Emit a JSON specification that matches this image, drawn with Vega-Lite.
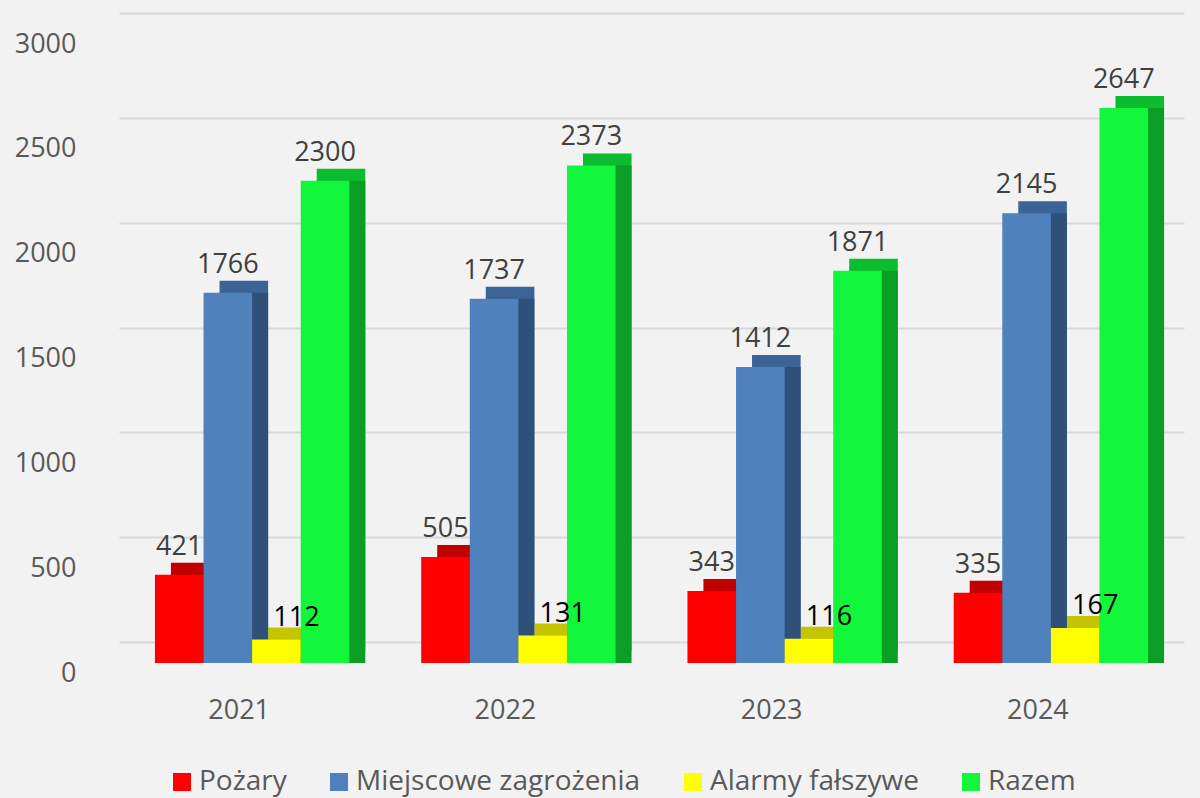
{
  "$schema": "https://vega.github.io/schema/vega-lite/v6.json",
  "autosize": "none",
  "width": 1065,
  "height": 629,
  "padding": {"left": 119, "top": 34, "right": 16, "bottom": 135},
  "background": "#f2f2f2",
  "config": {
    "view": {"stroke": null},
    "font": "Open Sans"
  },
  "data": {
    "values": [
      {"year": "2021", "series": "Pożary", "value": 421},
      {"year": "2021", "series": "Miejscowe zagrożenia", "value": 1766},
      {"year": "2021", "series": "Alarmy fałszywe", "value": 112},
      {"year": "2021", "series": "Razem", "value": 2300},
      {"year": "2022", "series": "Pożary", "value": 505},
      {"year": "2022", "series": "Miejscowe zagrożenia", "value": 1737},
      {"year": "2022", "series": "Alarmy fałszywe", "value": 131},
      {"year": "2022", "series": "Razem", "value": 2373},
      {"year": "2023", "series": "Pożary", "value": 343},
      {"year": "2023", "series": "Miejscowe zagrożenia", "value": 1412},
      {"year": "2023", "series": "Alarmy fałszywe", "value": 116},
      {"year": "2023", "series": "Razem", "value": 1871},
      {"year": "2024", "series": "Pożary", "value": 335},
      {"year": "2024", "series": "Miejscowe zagrożenia", "value": 2145},
      {"year": "2024", "series": "Alarmy fałszywe", "value": 167},
      {"year": "2024", "series": "Razem", "value": 2647}
    ]
  },
  "encoding": {
    "x": {
      "field": "year", "type": "nominal",
      "scale": {"paddingInner": 0.27, "paddingOuter": 0.135},
      "axis": {
        "title": null, "domain": false, "ticks": false, "labelAngle": 0,
        "labelFontSize": 27, "labelColor": "#595959", "labelPadding": 34,
        "labelOffset": -13
      }
    },
    "y": {
      "field": "value", "type": "quantitative",
      "scale": {"domain": [0, 3000], "nice": false},
      "axis": {
        "title": null, "domain": false, "ticks": false, "format": "d",
        "values": [0, 500, 1000, 1500, 2000, 2500, 3000],
        "grid": true, "gridColor": "#d9d9d9", "gridWidth": 2,
        "tickOffset": -21, "labelOffset": 31,
        "labelFontSize": 27, "labelColor": "#595959", "labelPadding": 43
      }
    }
  },
  "layer": [
    {
      "mark": {"type": "bar", "yOffset": -12},
      "encoding": {
        "xOffset": {
          "field": "series", "type": "nominal",
          "scale": {"domain": ["Pożary", "Miejscowe zagrożenia", "Alarmy fałszywe", "Razem"], "range": [16, 210.36], "paddingInner": 0, "paddingOuter": 0}
        },
        "color": {
          "field": "series", "type": "nominal", "legend": null,
          "scale": {"domain": ["Pożary", "Miejscowe zagrożenia", "Alarmy fałszywe", "Razem"], "range": ["#c00000", "#3b6395", "#c4c400", "#0bbd2e"]}
        }
      }
    },
    {
      "mark": {"type": "bar", "y2Offset": -12},
      "encoding": {
        "xOffset": {
          "field": "series", "type": "nominal",
          "scale": {"domain": ["Pożary", "Miejscowe zagrożenia", "Alarmy fałszywe", "Razem"], "range": [16, 210.36], "paddingInner": 0, "paddingOuter": 0}
        },
        "color": {
          "field": "series", "type": "nominal", "legend": null,
          "scale": {"domain": ["Pożary", "Miejscowe zagrożenia", "Alarmy fałszywe", "Razem"], "range": ["#a00000", "#2f5079", "#a0a000", "#0a9e25"]}
        }
      }
    },
    {
      "layer": [
        {
          "mark": {"type": "bar"},
          "encoding": {
            "color": {
              "field": "series", "type": "nominal",
              "scale": {"domain": ["Pożary", "Miejscowe zagrożenia", "Alarmy fałszywe", "Razem"], "range": ["#ff0000", "#4f81bd", "#ffff00", "#12f73b"]},
              "legend": {
                "title": null, "orient": "none", "direction": "horizontal",
                "legendX": 49, "legendY": 734,
                "symbolType": "square", "symbolSize": 324,
                "symbolStrokeWidth": 0, "symbolOpacity": 1,
                "labelFontSize": 28, "labelColor": "#595959", "labelOffset": 3,
                "columnPadding": 38, "labelLimit": 400
              }
            }
          }
        },
        {
          "transform": [{"filter": "datum.series !== 'Alarmy fałszywe'"}],
          "mark": {"type": "text", "dy": -20, "baseline": "alphabetic", "fontSize": 27, "color": "#404040"},
          "encoding": {"text": {"field": "value", "type": "quantitative"}}
        },
        {
          "transform": [{"filter": "datum.series === 'Alarmy fałszywe'"}],
          "mark": {"type": "text", "dy": -14, "dx": 20, "baseline": "alphabetic", "fontSize": 27, "color": "#000000"},
          "encoding": {"text": {"field": "value", "type": "quantitative"}}
        }
      ],
      "encoding": {
        "xOffset": {
          "field": "series", "type": "nominal",
          "scale": {"domain": ["Pożary", "Miejscowe zagrożenia", "Alarmy fałszywe", "Razem"], "paddingInner": 0, "paddingOuter": 0}
        }
      }
    }
  ],
  "resolve": {"scale": {"color": "independent", "xOffset": "independent"}, "legend": {"color": "independent"}}
}
